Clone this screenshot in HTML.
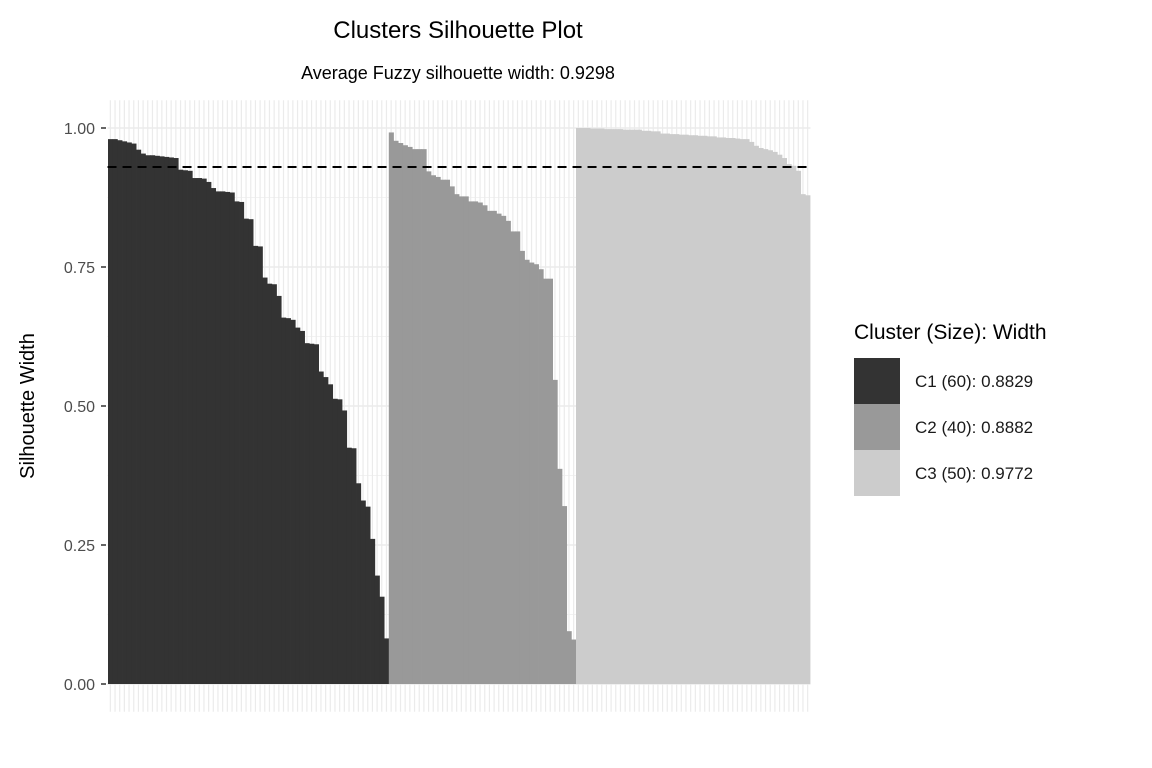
<!DOCTYPE html>
<html><head><meta charset="utf-8">
<style>
html,body{margin:0;padding:0;background:#fff;}
svg{display:block;font-family:"Liberation Sans",Arial,sans-serif;}
</style></head>
<body>
<svg id="chart" width="1152" height="768" viewBox="0 0 1152 768">
  <rect x="0" y="0" width="1152" height="768" fill="#fff"/>
  <g id="grid"></g>
  <g id="bars"></g>
  <g id="yaxis"></g>
  <line id="avgline" stroke="#000" stroke-width="2" stroke-dasharray="9,6"/>
  <text x="458" y="38" font-size="24" text-anchor="middle" fill="#000">Clusters Silhouette Plot</text>
  <text x="458" y="79" font-size="18" text-anchor="middle" fill="#000">Average Fuzzy silhouette width: 0.9298</text>
  <text transform="translate(34,406) rotate(-90)" font-size="20" text-anchor="middle" fill="#000">Silhouette Width</text>
  <g>
    <text x="854" y="339" font-size="21" fill="#000">Cluster (Size): Width</text>
    <rect x="854" y="358" width="46" height="46" fill="#333333"/>
    <rect x="854" y="404" width="46" height="46" fill="#999999"/>
    <rect x="854" y="450" width="46" height="46" fill="#cccccc"/>
    <text x="915" y="387" font-size="17" fill="#1a1a1a">C1 (60): 0.8829</text>
    <text x="915" y="433" font-size="17" fill="#1a1a1a">C2 (40): 0.8882</text>
    <text x="915" y="479" font-size="17" fill="#1a1a1a">C3 (50): 0.9772</text>
  </g>
</svg>
<script>
const c1Values = [0.98,0.98,0.978,0.976,0.974,0.972,0.961,0.954,0.951,0.951,0.95,0.949,0.948,0.947,0.946,0.925,0.924,0.923,0.91,0.91,0.909,0.903,0.892,0.886,0.886,0.885,0.884,0.868,0.867,0.837,0.836,0.788,0.787,0.731,0.72,0.719,0.698,0.659,0.658,0.655,0.641,0.635,0.613,0.612,0.611,0.562,0.552,0.539,0.513,0.512,0.492,0.425,0.424,0.361,0.33,0.319,0.261,0.195,0.157,0.082];
const c2Values = [0.992,0.977,0.973,0.969,0.966,0.962,0.962,0.962,0.922,0.915,0.912,0.907,0.907,0.895,0.881,0.877,0.877,0.868,0.868,0.866,0.861,0.851,0.851,0.846,0.842,0.833,0.814,0.814,0.779,0.763,0.758,0.755,0.746,0.729,0.729,0.547,0.387,0.32,0.095,0.08];
const c3Values = [1.0,1.0,1.0,0.999,0.999,0.999,0.998,0.998,0.998,0.998,0.997,0.997,0.997,0.997,0.995,0.995,0.994,0.994,0.99,0.99,0.989,0.989,0.988,0.988,0.987,0.987,0.986,0.986,0.985,0.985,0.983,0.983,0.982,0.982,0.981,0.98,0.98,0.975,0.968,0.964,0.962,0.96,0.957,0.952,0.946,0.935,0.932,0.923,0.881,0.879];
const clusterColors = ["#333333","#999999","#cccccc"];
const yTicks = [0,0.25,0.5,0.75,1.0];
const yTickLabels = ["0.00","0.25","0.50","0.75","1.00"];
const avgWidth = 0.9298;

const NS="http://www.w3.org/2000/svg";
const allVals=[].concat(c1Values,c2Values,c3Values);
const N=allVals.length;
const plotL=108, plotR=810, y0=684, y1=128;
const bw=(plotR-plotL)/N;
function xPos(i){return plotL+i*bw;}
function yPos(v){return y0-(y0-y1)*v;}
const panelTop=yPos(1.05), panelBot=yPos(-0.05);
const panelL=plotL-0.1*bw, panelR=plotR+0.1*bw;

const grid=document.getElementById('grid');
for(let k=-0.125;k<=1.1;k+=0.25){
  if(k<-0.05)continue;
  const l=document.createElementNS(NS,'line');
  l.setAttribute('x1',panelL);l.setAttribute('x2',panelR);
  l.setAttribute('y1',yPos(k));l.setAttribute('y2',yPos(k));
  l.setAttribute('stroke','#f2f2f2');l.setAttribute('stroke-width','1');
  
  
  grid.appendChild(l);
}
yTicks.forEach(t=>{
  const l=document.createElementNS(NS,'line');
  l.setAttribute('x1',panelL);l.setAttribute('x2',panelR);
  l.setAttribute('y1',yPos(t));l.setAttribute('y2',yPos(t));
  l.setAttribute('stroke','#ebebeb');l.setAttribute('stroke-width','1.5');
  
  
  grid.appendChild(l);
});
for(let i=0;i<N;i++){
  const l=document.createElementNS(NS,'line');
  const x=xPos(i)+bw/2;
  l.setAttribute('x1',x);l.setAttribute('x2',x);
  l.setAttribute('y1',panelTop);l.setAttribute('y2',panelBot);
  l.setAttribute('stroke','#ebebeb');l.setAttribute('stroke-width','1.2');
  
  
  grid.appendChild(l);
}

const bars=document.getElementById('bars');
let idx=0;
[c1Values,c2Values,c3Values].forEach((arr,ci)=>{
  arr.forEach(v=>{
    const r=document.createElementNS(NS,'rect');
    r.setAttribute('x',xPos(idx));
    r.setAttribute('width',bw+0.4);
    r.setAttribute('y',yPos(v));
    r.setAttribute('height',y0-yPos(v));
    r.setAttribute('fill',clusterColors[ci]);
    
    
    bars.appendChild(r);
    idx++;
  });
});

const ya=document.getElementById('yaxis');
yTicks.forEach((t,i)=>{
  const tk=document.createElementNS(NS,'line');
  tk.setAttribute('x1',plotL-7);tk.setAttribute('x2',plotL-2);
  tk.setAttribute('y1',yPos(t));tk.setAttribute('y2',yPos(t));
  tk.setAttribute('stroke','#333');tk.setAttribute('stroke-width','1.5');
  
  
  ya.appendChild(tk);
  const tx=document.createElementNS(NS,'text');
  tx.setAttribute('x',95);tx.setAttribute('y',yPos(t)+6);
  tx.setAttribute('text-anchor','end');tx.setAttribute('font-size','16');
  tx.setAttribute('fill','#4d4d4d');
  tx.textContent=yTickLabels[i];
  
  
  ya.appendChild(tx);
});

const al=document.getElementById('avgline');
al.setAttribute('x1',panelL);al.setAttribute('x2',panelR);
al.setAttribute('y1',yPos(avgWidth));al.setAttribute('y2',yPos(avgWidth));
</script>
</body></html>
